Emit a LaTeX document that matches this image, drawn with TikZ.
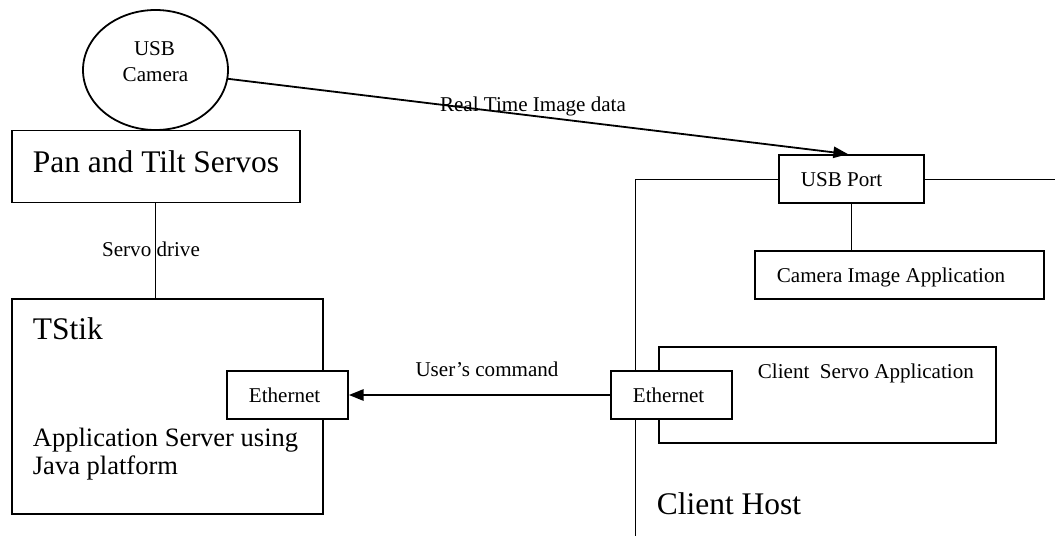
\documentclass[tikz,border=0pt]{standalone}
\usepackage{fontspec}
\setmainfont{Liberation Serif}
\usetikzlibrary{arrows.meta,shapes.geometric,backgrounds}
\begin{document}
\begin{tikzpicture}[x=0.75pt,y=-0.75pt,line width=1.35pt,
  box/.style={draw,fill=white,rectangle,inner sep=0pt},
  sm/.style={font=\fontsize{15.8}{19}\selectfont,inner sep=0pt},
  md/.style={font=\fontsize{19.9}{24}\selectfont,inner sep=0pt},
  lg/.style={font=\fontsize{23.6}{28}\selectfont,inner sep=0pt},
  tip/.style={-{Triangle[length=11pt,width=8.5pt]}}]
\useasboundingbox (0,0) rectangle (1055,536);

% boxes
\node[draw,ellipse,fill=white,inner sep=0pt,minimum width=108.75pt,minimum height=90pt] (cam) at (155.5,70) {};
\node[box,minimum width=216pt,minimum height=54pt] (pan) at (156,166.5) {};
\node[box,minimum width=233.25pt,minimum height=161.25pt] (tstik) at (167.5,406.5) {};
\node[box,minimum width=90.75pt,minimum height=36pt] (ethL) at (287.5,395) {};
\node[box,minimum width=108.75pt,minimum height=36pt] (usb) at (851.5,179) {};
\node[box,minimum width=216.75pt,minimum height=36pt] (camapp) at (899.5,275) {};
\node[box,minimum width=252.75pt,minimum height=72pt] (servoapp) at (827.5,395) {};
\node[box,minimum width=90.75pt,minimum height=36pt] (ethR) at (671.5,395) {};

% coordinates for free ends of the host frame
\coordinate (hostbot) at (635,536);
\coordinate (hostright) at (1055,179);

\begin{scope}[on background layer]
  \draw (usb.west) -- (usb.west -| hostbot) -- (hostbot);
  \draw (usb.east) -- (hostright);
\end{scope}

% connectors
\draw (pan.south -| 155.5,0) -- (tstik.north -| 155.5,0);
\draw (usb.south) -- (usb.south |- camapp.north);
\draw[tip] (ethR.west) -- (ethL.east);
\draw[tip] (cam) -- (usb.north -| 848,0);

% texts
\node[sm,anchor=base] (t1) at (154.5,55) {USB};
\node[sm,anchor=base] (t2) at (155.5,81.7) {Camera};
\node[lg,anchor=base west] (t3) at (32,172.7) {Pan and Tilt Servos};
\node[sm,anchor=base] (t4) at (151,256) {Servo drive};
\node[lg,anchor=base west] (t5) at (32,339) {TStik};
\node[md,anchor=base west] (t6) at (32,446) {Application Server using};
\node[md,anchor=base west] (t7) at (32,474) {Java platform};
\node[sm,anchor=base west] (t8) at (248,402.7) {Ethernet};
\node[sm,anchor=base] (t9) at (487,376.7) {User’s command};
\node[sm,anchor=base west] (t10) at (632,402.3) {Ethernet};
\node[sm,anchor=base] (t11) at (533,111.7) {Real Time Image data};
\node[sm,anchor=base west] (t12) at (800,186) {USB Port};
\node[sm,anchor=base west] (t13) at (776,282.3) {Camera Image Application};
\node[sm,anchor=base west] (t14) at (757,378.7) {Client\ \ Servo Application};
\node[lg,anchor=base west] (t15) at (656,514) {Client Host};
\end{tikzpicture}
\end{document}
